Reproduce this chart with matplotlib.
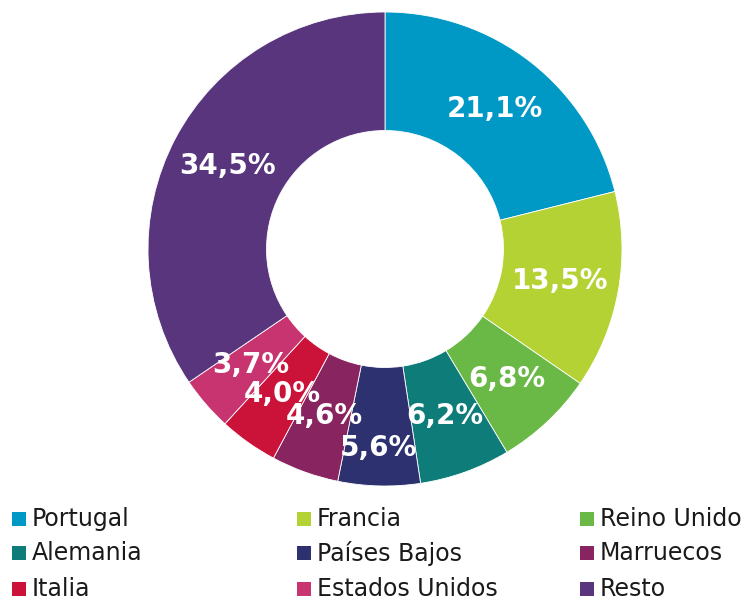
import matplotlib.pyplot as plt
import matplotlib.patches as mpatches

# ===================== 数据 =====================
paises = ["Portugal", "Francia", "Reino Unido", "Alemania", "Países Bajos",
          "Marruecos", "Italia", "Estados Unidos", "Resto"]
porcentajes = [21.1, 13.5, 6.8, 6.2, 5.6, 4.6, 4.0, 3.7, 34.5]
colores = ["#0098c4", "#b5d235", "#6ab845", "#0e7c79", "#2e3170",
           "#88245f", "#cb1239", "#c7346f", "#58357d"]

# 标签微调（避免重叠），单位为半径
desplazamientos = {4: (-0.01, -0.09)}

plt.rcParams['font.family'] = ['DejaVu Sans']

fig = plt.figure(figsize=(7.48, 6), dpi=100)
# 饼图区域：中心 (385,249)，半径 237 px
ax = fig.add_axes([(385 - 237) / 748, (600 - 486) / 600, 474 / 748, 474 / 600])

wedges, texts, autotexts = ax.pie(
    porcentajes,
    colors=colores,
    startangle=90,
    counterclock=False,
    radius=1.0,
    autopct=lambda p: f"{p:.1f}%".replace(".", ","),
    pctdistance=0.75,
    wedgeprops=dict(width=0.5, edgecolor='white', linewidth=0.6),
    textprops=dict(color='white', fontsize=20, fontweight='bold'),
)
for i, (dx, dy) in desplazamientos.items():
    x, y = autotexts[i].get_position()
    autotexts[i].set_position((x + dx, y + dy))

ax.set_xlim(-1, 1)
ax.set_ylim(-1, 1)
ax.set_aspect('equal')
ax.axis('off')

# ===================== 图例 =====================
col_x = [12, 297, 580]
row_y = [519, 553, 589]
for i, (nombre, color) in enumerate(zip(paises, colores)):
    c, r = i % 3, i // 3
    x0 = col_x[c] / 748
    y0 = 1 - row_y[r] / 600
    fig.patches.append(mpatches.Rectangle(
        (x0, y0 - 7 / 600), 14 / 748, 14 / 600,
        transform=fig.transFigure, facecolor=color, edgecolor='none'))
    fig.text(x0 + 20 / 748, y0, nombre, fontsize=17, color='#1a1a1a',
             va='center', ha='left')

fig.savefig("out.png", dpi=100)
